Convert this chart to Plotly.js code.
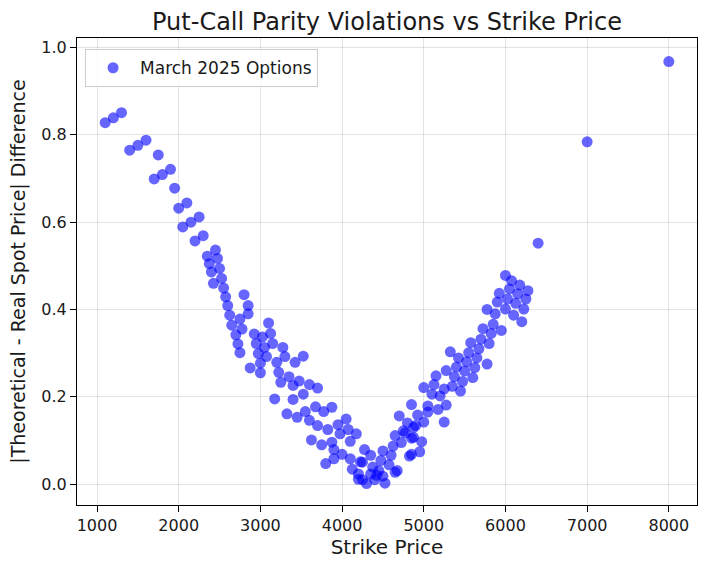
<!DOCTYPE html>
<html>
<head>
<meta charset="utf-8">
<script src="https://cdn.plot.ly/plotly-3.0.1.min.js"></script>
<style>
  html, body { margin: 0; padding: 0; background: #fff; }
  #chart { width: 705px; height: 562px; }
</style>
</head>
<body>
<div id="chart"></div>
<script>
// Strike prices of the March 2025 option pairs
const strikes = [
  1100, 1200, 1300, 1400, 1500, 1600, 1700, 1750, 1800, 1900,
  1950, 2000, 2050, 2100, 2150, 2200, 2250, 2300, 2350, 2375,
  2400, 2425, 2450, 2475, 2500, 2525, 2550, 2575, 2600, 2625,
  2650, 2700, 2725, 2750, 2750, 2775, 2800, 2850, 2850, 2875,
  2925, 2950, 2975, 3000, 3000, 3025, 3050, 3075, 3100, 3125,
  3150, 3175, 3200, 3225, 3250, 3275, 3300, 3325, 3350, 3400,
  3400, 3425, 3450, 3475, 3525, 3525, 3550, 3600, 3600, 3625,
  3675, 3700, 3700, 3750, 3775, 3800, 3825, 3875, 3875, 3900,
  3900, 3950, 3975, 4000, 4050, 4075, 4100, 4100, 4125, 4175,
  4200, 4200, 4225, 4250, 4250, 4275, 4300, 4350, 4350, 4375,
  4400, 4425, 4450, 4475, 4500, 4500, 4525, 4575, 4600, 4625,
  4650, 4650, 4675, 4700, 4725, 4750, 4775, 4800, 4825, 4850,
  4850, 4850, 4875, 4875, 4900, 4925, 4950, 4975, 5000, 5000,
  5050, 5050, 5100, 5125, 5150, 5175, 5200, 5250, 5250, 5275,
  5275, 5325, 5350, 5375, 5400, 5425, 5450, 5475, 5500, 5525,
  5550, 5575, 5600, 5625, 5650, 5675, 5700, 5725, 5775, 5775,
  5800, 5825, 5850, 5875, 5900, 5925, 5950, 6000, 6000, 6025,
  6050, 6075, 6100, 6125, 6150, 6175, 6200, 6225, 6250, 6275,
  6400, 7000, 8000
];

// |Theoretical - Real Spot Price| difference for each strike
const parityGap = [
  0.828, 0.839, 0.851, 0.765, 0.776, 0.788, 0.699, 0.754, 0.709, 0.721,
  0.678, 0.632, 0.589, 0.644, 0.600, 0.557, 0.612, 0.569, 0.522, 0.505,
  0.486, 0.460, 0.536, 0.517, 0.494, 0.471, 0.449, 0.429, 0.409, 0.387,
  0.364, 0.342, 0.321, 0.301, 0.378, 0.355, 0.434, 0.409, 0.390, 0.266,
  0.344, 0.322, 0.299, 0.277, 0.255, 0.337, 0.313, 0.292, 0.369, 0.345,
  0.322, 0.195, 0.279, 0.256, 0.233, 0.313, 0.292, 0.161, 0.246, 0.226,
  0.194, 0.279, 0.153, 0.236, 0.293, 0.206, 0.166, 0.228, 0.146, 0.101,
  0.177, 0.220, 0.134, 0.090, 0.166, 0.047, 0.125, 0.176, 0.096, 0.079,
  0.058, 0.136, 0.115, 0.068, 0.149, 0.125, 0.098, 0.058, 0.034, 0.115,
  0.023, 0.011, 0.051, 0.010, 0.050, 0.079, 0.001, 0.066, 0.023, 0.039,
  0.010, 0.020, 0.031, 0.054, 0.076, 0.018, 0.002, 0.044, 0.066, 0.087,
  0.111, 0.027, 0.031, 0.156, 0.095, 0.122, 0.117, 0.140, 0.064, 0.182,
  0.105, 0.068, 0.130, 0.107, 0.134, 0.158, 0.074, 0.097, 0.142, 0.221,
  0.165, 0.179, 0.206, 0.228, 0.248, 0.171, 0.202, 0.218, 0.142, 0.260,
  0.181, 0.303, 0.224, 0.246, 0.268, 0.289, 0.213, 0.235, 0.259, 0.280,
  0.301, 0.324, 0.244, 0.267, 0.289, 0.310, 0.332, 0.356, 0.400, 0.275,
  0.322, 0.345, 0.366, 0.390, 0.417, 0.437, 0.352, 0.478, 0.401, 0.424,
  0.447, 0.466, 0.387, 0.414, 0.436, 0.456, 0.372, 0.401, 0.424, 0.443,
  0.552, 0.784, 0.968
];

const xTicks = [1000, 2000, 3000, 4000, 5000, 6000, 7000, 8000];
const yTicks = [0.0, 0.2, 0.4, 0.6, 0.8, 1.0];

const fam = 'DejaVu Sans, sans-serif';
const ink = '#1a1a1a';

const trace = {
  type: 'scatter',
  mode: 'markers',
  x: strikes,
  y: parityGap,
  name: 'March 2025 Options',
  marker: { color: 'rgb(0,0,255)', opacity: 0.6, size: 11, line: { width: 0 } }
};

const axisCommon = {
  showline: true,
  linecolor: '#000',
  linewidth: 1,
  mirror: true,
  ticks: 'outside',
  ticklen: 6,
  tickwidth: 1,
  tickcolor: '#000',
  showgrid: true,
  gridcolor: 'rgba(176,176,176,0.35)',
  gridwidth: 1,
  zeroline: false,
  tickfont: { family: fam, size: 16, color: ink }
};

const layout = {
  width: 705,
  height: 562,
  margin: { l: 77, r: 8, t: 38, b: 57 },
  paper_bgcolor: '#fff',
  plot_bgcolor: '#fff',
  font: { family: fam, color: ink },
  showlegend: true,
  title: {
    text: 'Put-Call Parity Violations vs Strike Price',
    font: { family: fam, size: 24, color: ink },
    x: 0.5, xref: 'paper', xanchor: 'center',
    y: 1 - 22 / 562, yref: 'container', yanchor: 'middle'
  },
  xaxis: Object.assign({}, axisCommon, {
    range: [755, 8345],
    tickvals: xTicks,
    ticktext: xTicks.map(String),
    title: { text: 'Strike Price', font: { family: fam, size: 20, color: ink }, standoff: 4 }
  }),
  yaxis: Object.assign({}, axisCommon, {
    range: [-0.048, 1.022],
    tickvals: yTicks,
    ticktext: yTicks.map(v => v.toFixed(1)),
    title: { text: '|Theoretical - Real Spot Price| Difference', font: { family: fam, size: 19, color: ink }, standoff: 10 }
  }),
  legend: {
    x: 0.013, y: 0.976, xanchor: 'left', yanchor: 'top',
    bgcolor: 'rgba(255,255,255,0.8)',
    bordercolor: '#cccccc',
    borderwidth: 1,
    itemwidth: 44,
    font: { family: fam, size: 17, color: ink }
  }
};

Plotly.newPlot('chart', [trace], layout, { displayModeBar: false, staticPlot: true });
</script>
</body>
</html>
